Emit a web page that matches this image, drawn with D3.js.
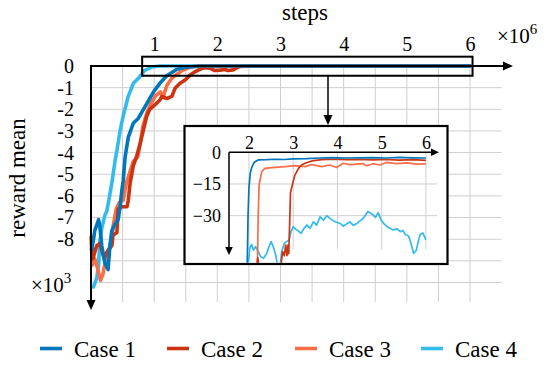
<!DOCTYPE html>
<html><head><meta charset="utf-8">
<script src="https://cdn.jsdelivr.net/npm/d3@7"></script>
<style>
html,body{margin:0;padding:0;background:#fff;}
svg{display:block;}
</style></head>
<body>
<svg id="chart" width="545" height="365" font-family="Liberation Serif"></svg>
<script>
// ---------- data ----------
const seriesNames = ["Case 1","Case 2","Case 3","Case 4"];
const seriesColors = ["#0077BB","#CC3311","#F96E46","#33BBEE"];
const xTicksMain = [1,2,3,4,5,6];
const yTicksMain = [0,-1,-2,-3,-4,-5,-6,-7,-8];
const xTicksInset = [2,3,4,5,6];
const yTicksInset = [0,-15,-30];

// main chart (steps x10^6, reward mean x10^3)
const case1Steps = [0.01,0.04,0.06,0.12,0.14,0.17,0.22,0.27,0.30,0.33,0.38,0.43,0.46,0.49,0.51,0.54,0.59,0.67,0.75,0.83,0.93,1.00,1.09,1.20,1.36,1.52,1.73,2,3,4,5,6];
const case1Reward = [-8.5,-8.0,-7.6,-7.1,-7.4,-8.3,-9.1,-9.4,-8.3,-7.6,-7.3,-7.1,-6.5,-5.7,-5.3,-4.2,-3.3,-2.64,-2.41,-2.0,-1.5,-1.15,-0.8,-0.45,-0.15,-0.05,0,0,0,0,0,0];
const case2Steps = [0.01,0.03,0.09,0.14,0.21,0.25,0.33,0.35,0.41,0.43,0.49,0.57,0.59,0.62,0.67,0.72,0.78,0.83,0.88,0.93,1.01,1.09,1.12,1.20,1.28,1.33,1.41,1.49,1.57,1.65,1.73,1.80,1.88,1.96,2.04,2.12,2.17,2.25,2.31,2.36,2.52,3,4,5,6];
const case2Reward = [-7.9,-8.9,-8.3,-8.2,-8.9,-8.6,-8.3,-7.8,-7.7,-6.6,-6.5,-6.5,-6.2,-5.4,-4.6,-4.2,-3.56,-2.95,-2.34,-2.0,-1.8,-1.57,-1.41,-1.5,-1.4,-1.03,-0.8,-0.65,-0.42,-0.26,-0.14,-0.08,-0.1,-0.21,-0.19,-0.16,-0.21,-0.18,-0.08,-0.02,0,0,0,0,0];
const case3Steps = [0.0,0.02,0.06,0.10,0.15,0.19,0.24,0.28,0.33,0.35,0.40,0.45,0.51,0.56,0.61,0.67,0.74,0.79,0.82,0.88,0.95,1.03,1.10,1.14,1.20,1.27,1.35,1.45,1.56,1.70,2,3,4,5,6];
const case3Reward = [-7.9,-9.2,-8.9,-9.3,-9.9,-9.6,-8.8,-8.5,-8.0,-7.4,-6.6,-6.3,-6.2,-5.4,-4.95,-4.4,-4.2,-3.4,-2.8,-2.2,-1.72,-1.35,-1.2,-1.45,-0.9,-0.6,-0.4,-0.2,-0.06,0,0,0,0,0,0];
const case4Steps = [0.01,0.04,0.09,0.12,0.14,0.17,0.22,0.25,0.27,0.33,0.38,0.41,0.46,0.51,0.59,0.67,0.75,0.85,0.96,1.09,2,3,4,5,6];
const case4Reward = [-10.2,-10.2,-9.8,-9.2,-8.1,-7.5,-6.9,-6.7,-6.4,-5.4,-4.4,-3.9,-3.0,-2.3,-1.4,-0.8,-0.57,-0.2,-0.05,0,0,0,0,0,0];

// inset (zoom on the converged region)
const case1InsetSteps = [1.96,1.98,2.0,2.03,2.06,2.12,2.21,2.4,2.6,2.8,3.0,3.3,3.6,3.9,4.2,4.5,4.8,5.1,5.4,5.7,6.0];
const case1InsetReward = [-56,-30,-17,-10,-7.4,-4.7,-3.6,-3.5,-3.3,-3.4,-3.1,-3.0,-2.7,-2.5,-2.7,-2.6,-2.5,-2.7,-2.4,-2.6,-2.7];
const case2InsetSteps = [2.15,2.2,2.25,2.7,2.76,2.8,2.83,2.86,2.88,2.9,2.92,2.94,2.99,3.04,3.12,3.19,3.27,3.42,3.64,3.9,4.2,4.5,4.8,5.1,5.4,5.7,6.0];
const case2InsetReward = [-58,-50,-58,-58,-47,-49,-44,-49,-44,-48,-34,-19,-14.7,-10.8,-7.6,-6.0,-5.2,-4.1,-3.5,-3.3,-3.5,-3.4,-3.6,-3.4,-3.7,-3.5,-3.8];
const case3InsetSteps = [2.19,2.21,2.23,2.29,2.36,2.51,2.82,3.04,3.27,3.42,3.64,3.83,3.98,4.13,4.28,4.58,4.66,4.81,4.96,5.11,5.34,5.57,5.79,6.0];
const case3InsetReward = [-56,-30,-15.5,-9.2,-7.6,-7.3,-6.8,-6.3,-6.8,-5.8,-6.8,-6.0,-7.2,-5.2,-5.8,-5.4,-6.4,-5.4,-6.0,-4.8,-5.4,-5.0,-5.6,-5.5];
const case4InsetSteps = [1.97,2.02,2.06,2.10,2.15,2.21,2.27,2.33,2.40,2.44,2.50,2.55,2.61,2.65,2.70,2.74,2.80,2.85,2.91,2.95,3.00,3.06,3.12,3.18,3.23,3.31,3.38,3.46,3.53,3.61,3.68,3.76,3.83,3.91,4.06,4.13,4.20,4.28,4.36,4.44,4.51,4.58,4.69,4.80,4.86,4.92,5.00,5.06,5.11,5.18,5.26,5.34,5.42,5.48,5.53,5.60,5.64,5.68,5.72,5.78,5.83,5.87,5.93,6.00];
const case4InsetReward = [-56,-45.5,-43.6,-46.3,-44.7,-47.1,-49.5,-50.2,-48,-45.5,-42.3,-44.7,-49,-54,-55,-47.1,-43.1,-42.3,-41.5,-37.6,-35.2,-36.5,-37.3,-38.4,-36.5,-34.4,-36,-32.9,-34.5,-30.5,-32.2,-30,-31.3,-32.5,-33.7,-35,-34,-33,-34.6,-33.7,-32.5,-31.3,-28,-29.5,-30.8,-28.6,-32.6,-34,-35,-36,-36.8,-36.2,-37.6,-37,-38.9,-39.5,-41.5,-44.5,-47.9,-46.5,-42,-38.9,-38.2,-41.5];

const mainSeries = [
  {steps: case1Steps, reward: case1Reward},
  {steps: case2Steps, reward: case2Reward},
  {steps: case3Steps, reward: case3Reward},
  {steps: case4Steps, reward: case4Reward}
];
const insetSeries = [
  {steps: case1InsetSteps, reward: case1InsetReward},
  {steps: case2InsetSteps, reward: case2InsetReward},
  {steps: case3InsetSteps, reward: case3InsetReward},
  {steps: case4InsetSteps, reward: case4InsetReward}
];
const drawOrder = [3,2,1,0];
const FONT = "Liberation Serif";

// ---------- drawing ----------
const svg = d3.select("#chart");
const x = d3.scaleLinear().domain([0,6.5]).range([91,501.6]);
const y = d3.scaleLinear().domain([0,-10.9]).range([66,302]);

function arrow(g, tipX, tipY, dir, len, half){
  let p;
  if(dir==="right") p=[[tipX,tipY],[tipX-len,tipY-half],[tipX-len,tipY+half]];
  else p=[[tipX,tipY],[tipX-half,tipY-len],[tipX+half,tipY-len]];
  g.append("path").attr("d","M"+p.map(d=>d.join(",")).join("L")+"Z").attr("fill","#000");
}

// grid
const grid = svg.append("g").attr("stroke","#cfcfcf").attr("stroke-width",1);
grid.selectAll(".gv").data(d3.range(0.5,6.01,0.5)).join("line")
  .attr("x1",d=>x(d)).attr("x2",d=>x(d)).attr("y1",y(0)).attr("y2",y(-10.9));
grid.selectAll(".gh").data(d3.range(-1,-10.01,-1)).join("line")
  .attr("x1",x(0)).attr("x2",x(6.5)).attr("y1",d=>y(d)).attr("y2",d=>y(d));

// lines
const line = d3.line().x(d=>x(d[0])).y(d=>y(d[1]));
const lines = svg.append("g").attr("fill","none").attr("stroke-width",3.6)
  .attr("stroke-linejoin","round").attr("stroke-linecap","round");
drawOrder.forEach(i=>{
  const s = mainSeries[i];
  lines.append("path").datum(s.steps.map((v,k)=>[v,s.reward[k]]))
    .attr("stroke",seriesColors[i]).attr("d",line);
});

// axes
const ax = svg.append("g");
ax.append("line").attr("x1",x(0)).attr("x2",505).attr("y1",y(0)).attr("y2",y(0)).attr("stroke","#000").attr("stroke-width",2);
arrow(ax,513,y(0),"right",10,4.5);
ax.append("line").attr("x1",x(0)).attr("x2",x(0)).attr("y1",y(0)-1).attr("y2",302).attr("stroke","#000").attr("stroke-width",2);
arrow(ax,x(0),310,"down",10,4.5);

const xAxis = svg.append("g").attr("transform",`translate(0,${y(0)})`)
  .call(d3.axisTop(x).tickValues(xTicksMain).tickSize(0).tickPadding(15).tickFormat(d3.format("d")));
xAxis.attr("font-family",FONT).attr("font-size",20);
xAxis.select(".domain").remove();

const yAxis = svg.append("g").attr("transform",`translate(${x(0)},0)`)
  .call(d3.axisLeft(y).tickValues(yTicksMain).tickSize(0).tickPadding(17).tickFormat(d=>d===0?"0":"-"+Math.abs(d)));
yAxis.attr("font-family",FONT).attr("font-size",20);
yAxis.select(".domain").remove();

// titles
svg.append("text").attr("x",305).attr("y",20).attr("text-anchor","middle").attr("font-family",FONT).attr("font-size",23).text("steps");
svg.append("text").attr("transform","translate(25,178) rotate(-90)").attr("text-anchor","middle").attr("font-family",FONT).attr("font-size",23).text("reward mean");
const t6 = svg.append("text").attr("x",497).attr("y",43).attr("font-family",FONT).attr("font-size",21);
t6.append("tspan").text("×10");
t6.append("tspan").attr("dy",-9).attr("font-size",15).text("6");
const t3 = svg.append("text").attr("x",31).attr("y",292).attr("font-family",FONT).attr("font-size",21);
t3.append("tspan").text("×10");
t3.append("tspan").attr("dy",-9).attr("font-size",15).text("3");

// zoom rectangle + connector
svg.append("rect").attr("x",x(0.81)).attr("y",y(0.43)).attr("width",x(6.04)-x(0.81)).attr("height",y(-0.45)-y(0.43))
  .attr("fill","none").attr("stroke","#000").attr("stroke-width",2);
svg.append("line").attr("x1",328).attr("x2",328).attr("y1",y(-0.45)).attr("y2",116).attr("stroke","#000").attr("stroke-width",1.5);
arrow(svg,328,125,"down",10,4.5);

// ---------- inset ----------
const ib = {x0:184.5, y0:126, x1:447.5, y1:264};
svg.append("rect").attr("x",ib.x0).attr("y",ib.y0).attr("width",ib.x1-ib.x0).attr("height",ib.y1-ib.y0)
  .attr("fill","#fff").attr("stroke","#000").attr("stroke-width",2.2);
const ix = d3.scaleLinear().domain([1.55,6.25]).range([229,437]);
const iy = d3.scaleLinear().domain([0,-47.5]).range([152.3,252.6]);

const ig = svg.append("g").attr("stroke","#cfcfcf").attr("stroke-width",1);
ig.selectAll(".v").data(xTicksInset).join("line")
  .attr("x1",d=>ix(d)).attr("x2",d=>ix(d)).attr("y1",iy(0)).attr("y2",iy(-46));
ig.selectAll(".h").data([-15,-30]).join("line")
  .attr("x1",ix(1.55)).attr("x2",ix(6.25)).attr("y1",d=>iy(d)).attr("y2",d=>iy(d));

svg.append("clipPath").attr("id","insetClip").append("rect")
  .attr("x",ib.x0+1.2).attr("y",ib.y0+1.2).attr("width",ib.x1-ib.x0-2.4).attr("height",ib.y1-ib.y0-2.4);
const iline = d3.line().x(d=>ix(d[0])).y(d=>iy(d[1]));
const il = svg.append("g").attr("clip-path","url(#insetClip)").attr("fill","none").attr("stroke-width",1.7)
  .attr("stroke-linejoin","round");
drawOrder.forEach(i=>{
  const s = insetSeries[i];
  il.append("path").datum(s.steps.map((v,k)=>[v,s.reward[k]]))
    .attr("stroke",seriesColors[i]).attr("d",iline);
});

svg.append("line").attr("x1",ix(1.55)).attr("x2",432).attr("y1",iy(0)).attr("y2",iy(0)).attr("stroke","#000").attr("stroke-width",1.5);
arrow(svg,439,iy(0),"right",8,3.8);
svg.append("line").attr("x1",ix(1.55)).attr("x2",ix(1.55)).attr("y1",iy(0)).attr("y2",248).attr("stroke","#000").attr("stroke-width",1.5);
arrow(svg,ix(1.55),255,"down",8,3.8);

const ixAxis = svg.append("g").attr("transform",`translate(0,${iy(0)})`)
  .call(d3.axisTop(ix).tickValues(xTicksInset).tickSize(0).tickPadding(3.5).tickFormat(d3.format("d")));
ixAxis.attr("font-family",FONT).attr("font-size",18);
ixAxis.select(".domain").remove();
const iyAxis = svg.append("g").attr("transform",`translate(${ix(1.55)},0)`)
  .call(d3.axisLeft(iy).tickValues(yTicksInset).tickSize(0).tickPadding(8).tickFormat(d=>d===0?"0":"\u2212"+Math.abs(d)));
iyAxis.attr("font-family",FONT).attr("font-size",18);
iyAxis.select(".domain").remove();

// ---------- legend ----------
const legendX = [40,167,295,421];
const lg = svg.append("g");
seriesNames.forEach((n,i)=>{
  lg.append("line").attr("x1",legendX[i]).attr("x2",legendX[i]+22).attr("y1",348.5).attr("y2",348.5)
    .attr("stroke",seriesColors[i]).attr("stroke-width",3.6);
  lg.append("text").attr("x",legendX[i]+34).attr("y",357).attr("font-family",FONT).attr("font-size",23).text(n);
});
</script>
</body></html>
